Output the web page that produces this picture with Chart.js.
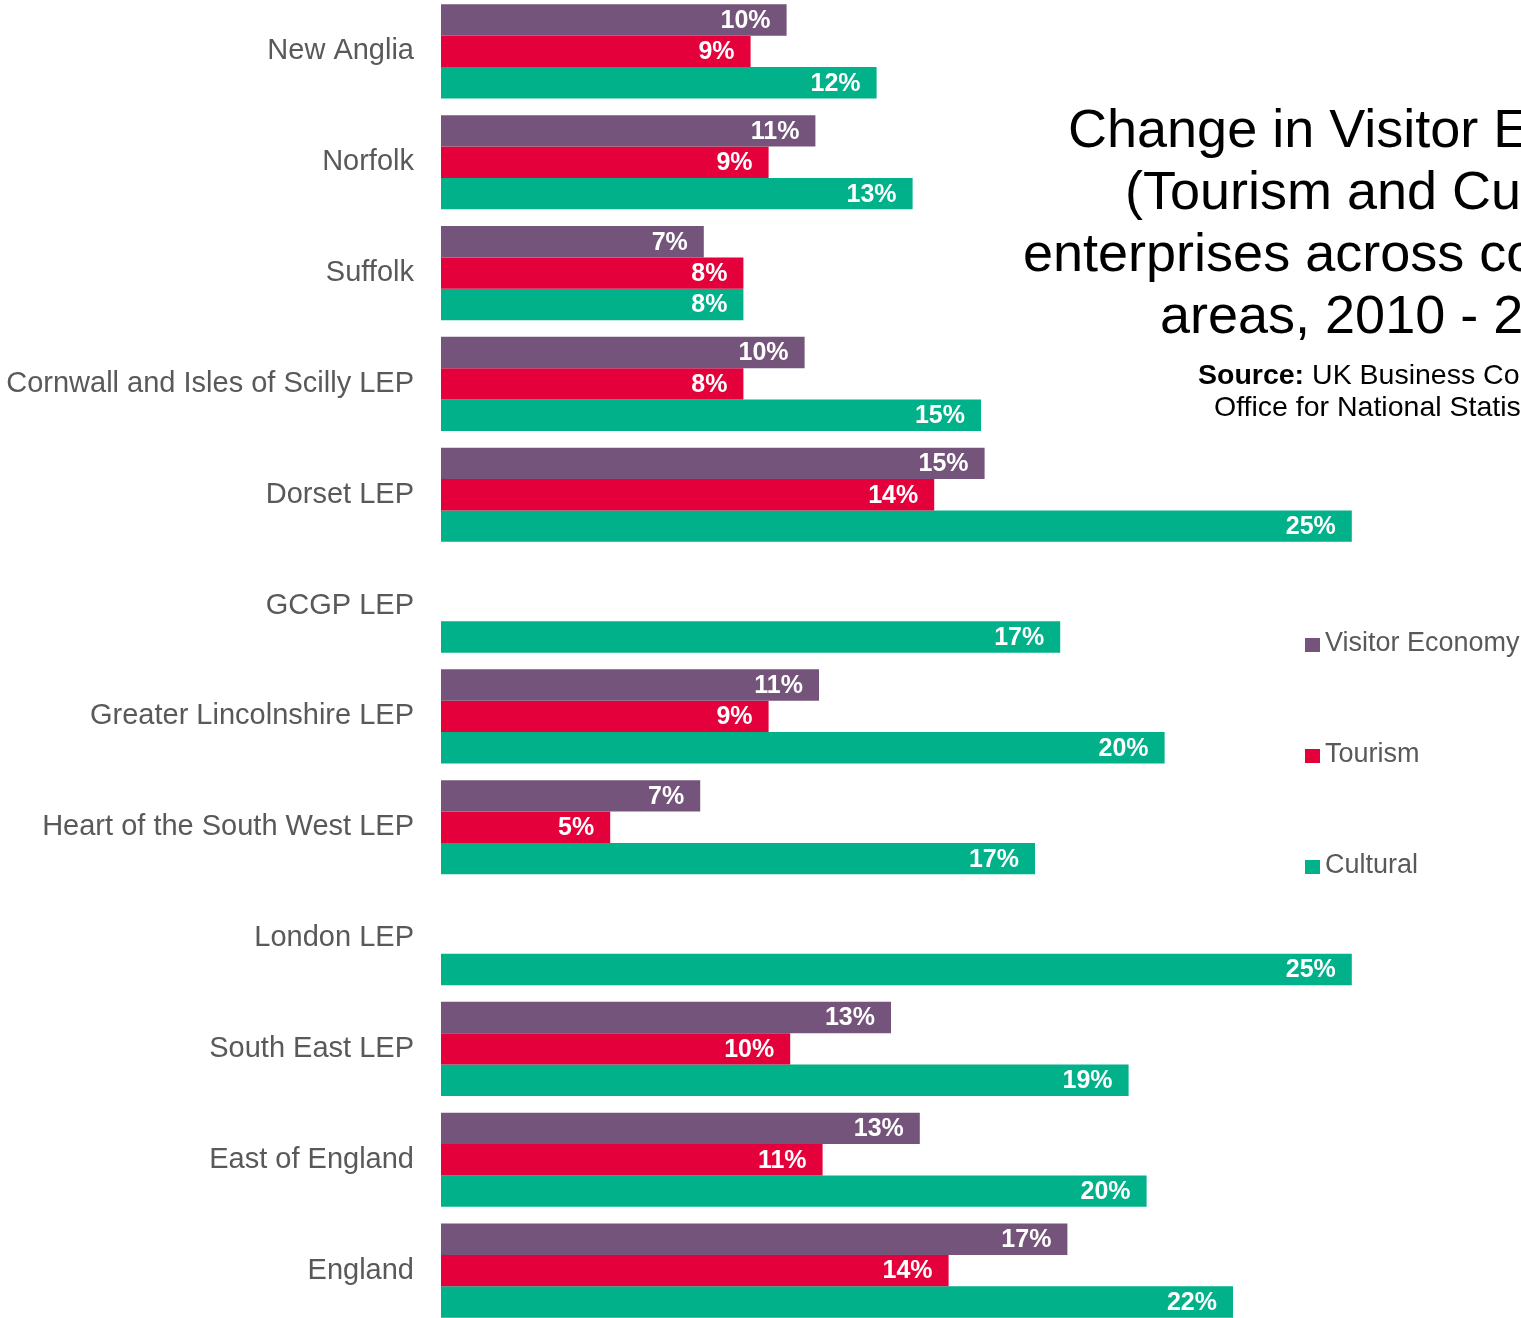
<!DOCTYPE html>
<html>
<head>
<meta charset="utf-8">
<script src="https://cdn.jsdelivr.net/npm/chart.js@4"></script>
<style>
  html, body { margin: 0; padding: 0; width: 1521px; height: 1318px; overflow: hidden; background: #fff; }
  body { position: relative; font-family: 'Liberation Sans', Arial, sans-serif; }
  #chart { position: absolute; left: 0; top: -4px; }
  .title { position: absolute; font-size: 54px; line-height: 62px; color: #000; white-space: nowrap; }
  .source { position: absolute; font-size: 28.5px; line-height: 32px; color: #000; white-space: nowrap; }
  .legend-item { position: absolute; left: 1305px; font-size: 27px; color: #595959; white-space: nowrap; height: 30px; line-height: 30px; }
  .legend-item span { display: inline-block; width: 15px; height: 14px; margin-right: 5px; vertical-align: -1px; }
</style>
</head>
<body>
<canvas id="chart" width="1521" height="1330"></canvas>

<div class="title" style="left:1068px; top:97px;">Change in Visitor Economy</div>
<div class="title" style="left:1125px; top:159px;">(Tourism and Cultural)</div>
<div class="title" style="left:1023px; top:221px;">enterprises across comparator</div>
<div class="title" style="left:1160px; top:283px;">areas, 2010 - 2017</div>
<div class="source" style="left:1198px; top:358px;"><b>Source:</b> UK Business Counts,</div>
<div class="source" style="left:1214px; top:390px;">Office for National Statistics</div>

<div id="legend"></div>

<script>
const categories = [
    'New Anglia', 'Norfolk', 'Suffolk', 'Cornwall and Isles of Scilly LEP',
    'Dorset LEP', 'GCGP LEP', 'Greater Lincolnshire LEP', 'Heart of the South West LEP',
    'London LEP', 'South East LEP', 'East of England', 'England'
];

// bar lengths (%)
const visitorEconomy = [9.6, 10.4, 7.3, 10.1, 15.1, null, 10.5, 7.2, null, 12.5, 13.3, 17.4];
const tourism        = [8.6, 9.1, 8.4, 8.4, 13.7, null, 9.1, 4.7, null, 9.7, 10.6, 14.1];
const cultural       = [12.1, 13.1, 8.4, 15.0, 25.3, 17.2, 20.1, 16.5, 25.3, 19.1, 19.6, 22.0];

// value labels as printed on the bars
const visitorLabels = ['10%', '11%', '7%', '10%', '15%', '', '11%', '7%', '', '13%', '13%', '17%'];
const tourismLabels = ['9%', '9%', '8%', '8%', '14%', '', '9%', '5%', '', '10%', '11%', '14%'];
const culturalLabels = ['12%', '13%', '8%', '15%', '25%', '17%', '20%', '17%', '25%', '19%', '20%', '22%'];

const seriesNames = ['Visitor Economy', 'Tourism', 'Cultural'];
const seriesColors = ['#75547B', '#E4003B', '#00B189'];
const allLabels = [visitorLabels, tourismLabels, culturalLabels];

// white bold labels at the inner end of each bar
const barLabels = {
    id: 'barLabels',
    afterDatasetsDraw(chart) {
        const ctx = chart.ctx;
        ctx.save();
        ctx.fillStyle = '#fff';
        ctx.font = "bold 25px 'Liberation Sans', Arial, sans-serif";
        ctx.textAlign = 'right';
        ctx.textBaseline = 'middle';
        chart.data.datasets.forEach((ds, i) => {
            const meta = chart.getDatasetMeta(i);
            meta.data.forEach((bar, j) => {
                const txt = allLabels[i][j];
                if (!txt || ds.data[j] == null) return;
                ctx.fillText(txt, bar.x - 16, bar.y + 1);
            });
        });
        ctx.restore();
    }
};

const ctx = document.getElementById('chart').getContext('2d');
new Chart(ctx, {
    type: 'bar',
    data: {
        labels: categories,
        datasets: [
            { label: seriesNames[0], data: visitorEconomy, backgroundColor: seriesColors[0] },
            { label: seriesNames[1], data: tourism, backgroundColor: seriesColors[1] },
            { label: seriesNames[2], data: cultural, backgroundColor: seriesColors[2] }
        ]
    },
    options: {
        indexAxis: 'y',
        responsive: false,
        animation: false,
        devicePixelRatio: 1,
        layout: { padding: 0 },
        datasets: {
            bar: { categoryPercentage: 0.85, barPercentage: 1.0 }
        },
        scales: {
            x: { display: false, min: 0, max: 30 },
            y: {
                grid: { display: false, drawTicks: false },
                border: { display: false },
                ticks: {
                    color: '#595959',
                    padding: 27,
                    font: { family: "'Liberation Sans', Arial, sans-serif", size: 29 }
                },
                afterFit(scale) {
                    // labels sit beside the bands, so no extra room above / below
                    scale.width = 441;
                    scale.paddingTop = 0;
                    scale.paddingBottom = 0;
                }
            }
        },
        plugins: {
            legend: { display: false },
            tooltip: { enabled: false },
            title: { display: false }
        }
    },
    plugins: [barLabels]
});

// legend on the right
const legendTops = [627, 738, 849];
const legend = document.getElementById('legend');
seriesNames.forEach((name, i) => {
    const item = document.createElement('div');
    item.className = 'legend-item';
    item.style.top = legendTops[i] + 'px';
    item.innerHTML = `<span style="background:${seriesColors[i]}"></span>${name}`;
    legend.appendChild(item);
});
</script>
</body>
</html>
